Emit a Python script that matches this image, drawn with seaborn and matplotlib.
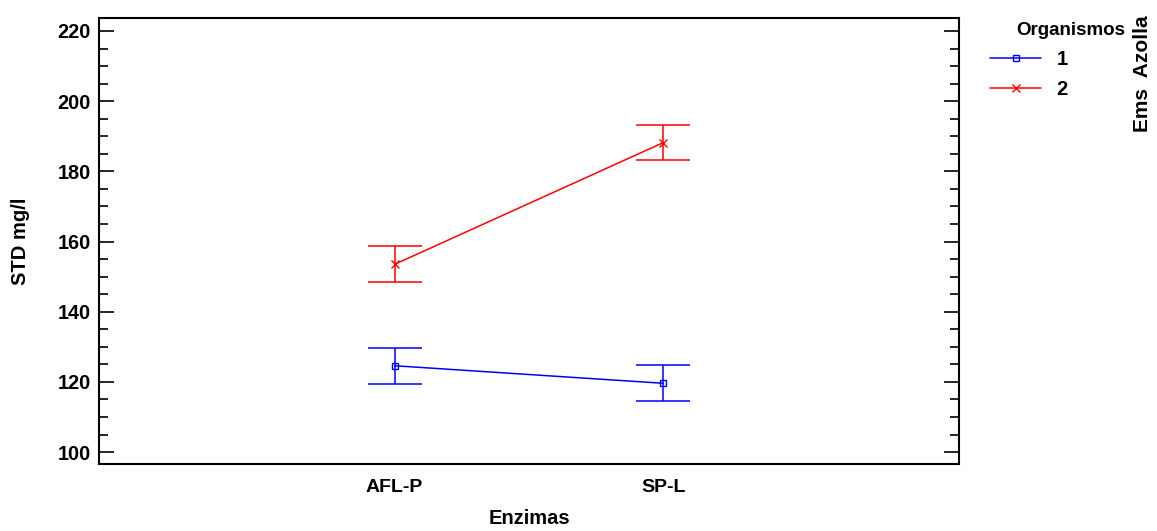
import matplotlib
matplotlib.use("Agg")
import matplotlib.pyplot as plt
import seaborn as sns
import pandas as pd
from matplotlib.ticker import MultipleLocator
from matplotlib.lines import Line2D

enzimas = ["AFL-P", "SP-L"]
org1_mean = [124.6, 119.6]
org1_err = [5.1, 5.1]
org2_mean = [153.5, 188.2]
org2_err = [5.1, 5.0]
organismos = ["1", "2"]
colors = ["#0000ff", "#ff0000"]

sns.set_theme(style="white")
plt.rcParams["font.family"] = ["Liberation Sans", "DejaVu Sans"]
plt.rcParams["font.weight"] = "bold"
plt.rcParams["text.color"] = "black"
plt.rcParams["axes.labelcolor"] = "black"
plt.rcParams["xtick.color"] = "black"
plt.rcParams["ytick.color"] = "black"

fig = plt.figure(figsize=(11.57, 5.31), dpi=100)
ax = fig.add_axes([99/1157, 1-464/531, (959-99)/1157, (464-18)/531])

df1 = pd.DataFrame({"Enzimas": enzimas, "STD": org1_mean})
df2 = pd.DataFrame({"Enzimas": enzimas, "STD": org2_mean})

sns.lineplot(data=df1, x="Enzimas", y="STD", ax=ax, color=colors[0], marker="s",
             markersize=5, markerfacecolor="none", markeredgecolor=colors[0],
             markeredgewidth=1.0, linewidth=1.1, label="1", legend=False)
sns.lineplot(data=df2, x="Enzimas", y="STD", ax=ax, color=colors[1], marker="x",
             markersize=6, markeredgecolor=colors[1], markeredgewidth=1.0,
             linewidth=1.1, label="2", legend=False)

xpos = list(range(len(enzimas)))
ax.errorbar(xpos, org1_mean, yerr=org1_err, fmt="none", ecolor=colors[0],
            elinewidth=1.1, capsize=19.5, capthick=1.1)
ax.errorbar(xpos, org2_mean, yerr=org2_err, fmt="none", ecolor=colors[1],
            elinewidth=1.1, capsize=19.5, capthick=1.1)

ax.set_xlim(-1.1, 2.1)
ax.set_ylim(96.6, 223.7)
ax.yaxis.set_major_locator(MultipleLocator(20))
ax.yaxis.set_minor_locator(MultipleLocator(5))
ax.tick_params(axis="y", which="major", direction="in", length=11, width=1.2,
               left=True, right=True, labelsize=14.3, pad=6)
ax.tick_params(axis="y", which="minor", direction="in", length=6.5, width=1.2,
               left=True, right=True)
ax.tick_params(axis="x", which="both", bottom=False, top=False, labelsize=14, pad=5)
for lab in ax.get_xticklabels() + ax.get_yticklabels():
    lab.set_fontweight("bold")
for s in ax.spines.values():
    s.set_color("black")
    s.set_linewidth(1.5)

ax.set_xlabel("Enzimas", fontsize=14.5, fontweight="bold", labelpad=9)
ax.set_ylabel("STD mg/l", fontsize=14.5, fontweight="bold", labelpad=20)

handles = [
    Line2D([], [], color=colors[0], marker="s", markersize=5, markerfacecolor="none",
           markeredgecolor=colors[0], linewidth=1.1),
    Line2D([], [], color=colors[1], marker="x", markersize=6, markeredgecolor=colors[1],
           linewidth=1.1),
]
leg = fig.legend(handles, organismos, loc="upper left", bbox_to_anchor=(986/1157, 1-46/531),
                 frameon=False, fontsize=14.5, handlelength=2.55, handletextpad=0.75,
                 labelspacing=0.55, borderaxespad=0, borderpad=0.2)
for t in leg.get_texts():
    t.set_fontweight("bold")
fig.text(1071/1157, 1-31/531, "Organismos", ha="center", va="center",
         fontsize=13.5, fontweight="bold")
fig.text(1142/1157, 1-74/531, "Ems  Azolla", ha="center", va="center",
         rotation=90, fontsize=15, fontweight="bold")

fig.savefig("out.png", dpi=100)
